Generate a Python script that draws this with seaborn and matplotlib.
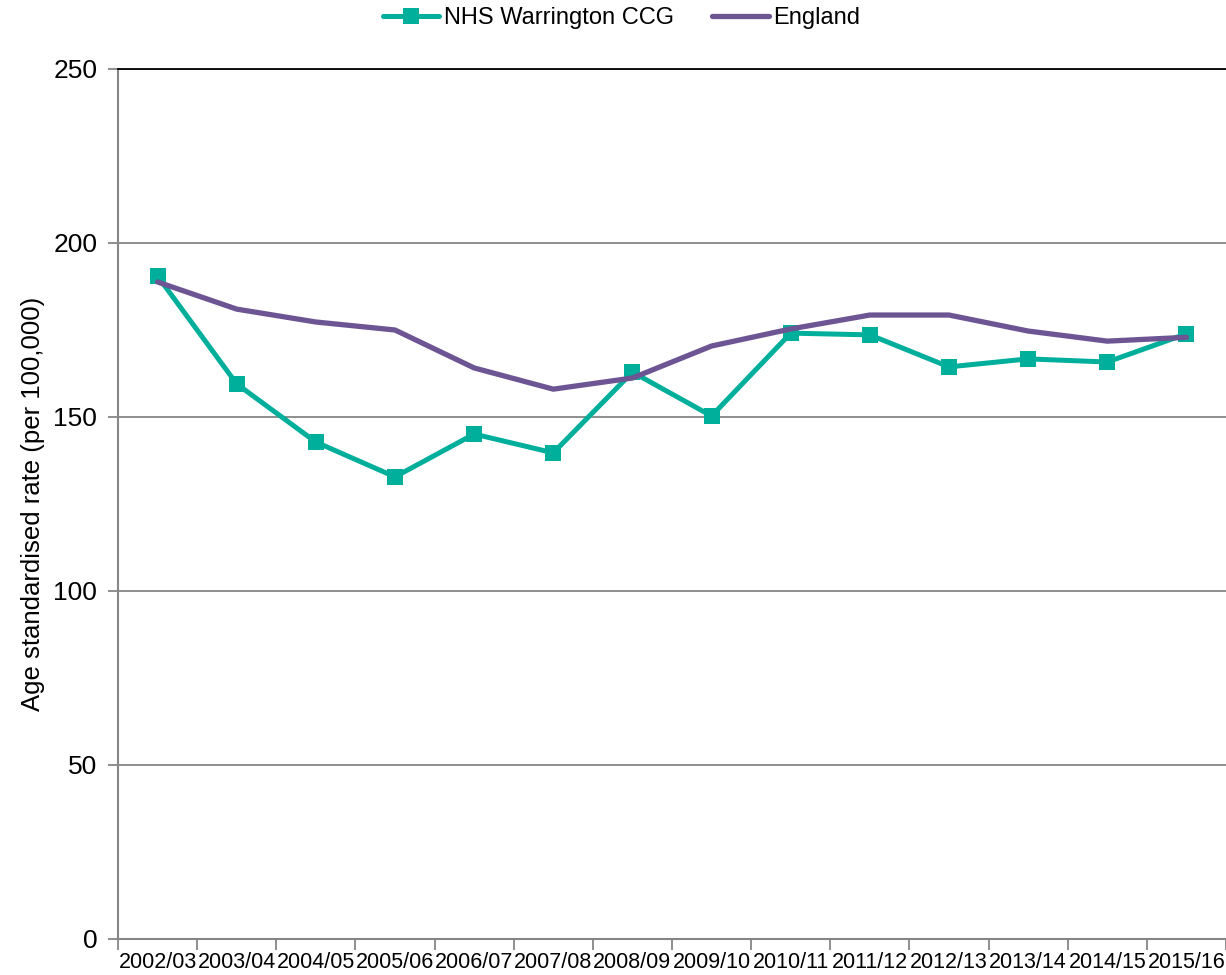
import matplotlib
matplotlib.use("Agg")
import matplotlib.pyplot as plt
import seaborn as sns
import pandas as pd
import numpy as np

years = ["2002/03", "2003/04", "2004/05", "2005/06", "2006/07", "2007/08", "2008/09",
         "2009/10", "2010/11", "2011/12", "2012/13", "2013/14", "2014/15", "2015/16"]
warrington = [190.5, 159.5, 142.8, 132.8, 145.1, 139.7, 162.9,
              150.3, 174.1, 173.6, 164.4, 166.7, 165.8, 173.9]
england = [188.8, 181.0, 177.3, 175.0, 164.1, 158.0, 161.2,
           170.4, 175.3, 179.3, 179.3, 174.7, 171.8, 172.9]

sns.set_theme(style="white")
plt.rcParams["font.family"] = ["Liberation Sans", "DejaVu Sans"]
plt.rcParams["text.color"] = "black"
plt.rcParams["xtick.labelcolor"] = "black"
plt.rcParams["ytick.labelcolor"] = "black"
plt.rcParams["axes.labelcolor"] = "black"

teal = "#00AF9B"
purple = "#6D5594"
grey = "#868686"

df = pd.DataFrame({
    "pos": list(range(len(years))) * 2,
    "rate": warrington + england,
    "area": ["NHS Warrington CCG"] * len(years) + ["England"] * len(years),
})

fig = plt.figure(figsize=(12.26, 9.75), dpi=100)
ax = fig.add_axes([118 / 1226, 36 / 975, 1108 / 1226, 870 / 975])

sns.lineplot(data=df[df.area == "NHS Warrington CCG"], x="pos", y="rate", ax=ax,
             color=teal, linewidth=3.6, marker="s", markersize=11, markeredgewidth=0,
             label="NHS Warrington CCG", zorder=3)
sns.lineplot(data=df[df.area == "England"], x="pos", y="rate", ax=ax,
             color=purple, linewidth=3.8, label="England", zorder=4,
             solid_capstyle="round")

ax.set_xlim(-0.5, len(years) - 0.5)
ax.set_ylim(0, 250)
ax.set_yticks(np.arange(0, 251, 50))
ax.yaxis.grid(True, color=grey, linewidth=1.3)
ax.set_axisbelow(True)

# category boundaries as major ticks, labels centred as minor ticks
ax.set_xticks(np.arange(-0.5, len(years), 1.0))
ax.set_xticklabels([])
ax.set_xticks(np.arange(len(years)), minor=True)
ax.set_xticklabels(years, minor=True, fontsize=15.5)
ax.tick_params(axis="x", which="major", length=8, width=1.3, color=grey, direction="out", bottom=True)
ax.tick_params(axis="x", which="minor", length=0, pad=9)
ax.tick_params(axis="y", length=7, width=1.3, color=grey, direction="out", left=True, labelsize=19, pad=8)

for side in ["left", "bottom"]:
    ax.spines[side].set_color(grey)
    ax.spines[side].set_linewidth(1.5)
ax.spines["right"].set_visible(False)
ax.spines["top"].set_color("black")
ax.spines["top"].set_linewidth(1.3)

ax.set_xlabel("")
ax.set_ylabel("Age standardised rate (per 100,000)", fontsize=18.5, labelpad=6)

ax.get_legend().remove()
handles, labels = ax.get_legend_handles_labels()
fig.legend(handles, labels, loc="center", bbox_to_anchor=(0.507, 1 - 18 / 975), ncol=2,
           frameon=False, fontsize=17, handlelength=2.4, handletextpad=0.2,
           columnspacing=1.6, numpoints=1)

fig.savefig("out.png", dpi=100)
